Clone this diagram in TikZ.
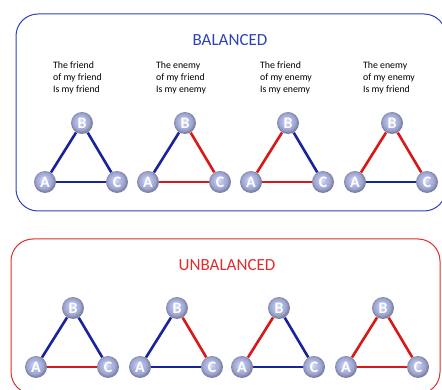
\documentclass[tikz,border=0pt]{standalone}
\usepackage{fontspec}
\setmainfont{Carlito}
\usepackage{xcolor}
\usetikzlibrary{positioning}

\definecolor{boxblue}{RGB}{45,65,185}
\definecolor{boxred}{RGB}{225,45,45}
\definecolor{tieblue}{RGB}{25,35,155}
\definecolor{tiered}{RGB}{215,25,25}
\definecolor{ballcol}{RGB}{175,183,228}
\definecolor{balledge}{RGB}{125,130,165}
\pgfdeclareradialshading{softball}{\pgfpoint{-4bp}{5bp}}{%
    color(0bp)=(ballcol!45!white);
    color(11bp)=(ballcol); color(19bp)=(ballcol!90!black);
    color(24bp)=(balledge); color(50bp)=(balledge)}

\begin{document}
\begin{tikzpicture}[
    x=1pt, y=-1pt,
    % Styles
    person/.style={circle, shading=softball, draw=none, minimum size=22pt, inner sep=0pt, text=white, font=\fontsize{16}{16}\selectfont\bfseries},
    friend/.style={draw=tieblue, line width=2.6pt},
    enemy/.style={draw=tiered, line width=2.6pt},
    panel/.style={rounded corners=22pt, line width=1pt},
    caption/.style={anchor=north west, align=left, inner sep=0pt, font=\fontsize{9.8}{12}\selectfont},
    title/.style={font=\fontsize{17}{17}\selectfont}
]
\useasboundingbox (0,0) rectangle (442,390);

% --- Panels ---
\draw[panel, draw=boxblue] (16,14) rectangle (446,211);
\draw[panel, draw=boxred] (11,239) rectangle (440,394);
\node[title, text=boxblue] (bal) at (230,40) {BALANCED};
\node[title, text=boxred] (unbal) at (227,265) {UNBALANCED};

% --- Captions ---
\node[caption] (cap1) at (53,61) {The friend\\of my friend\\Is my friend};
\node[caption] (cap2) at (156,61) {The enemy\\of my friend\\Is my enemy};
\node[caption] (cap3) at (260,61) {The friend\\of my enemy\\Is my enemy};
\node[caption] (cap4) at (363,61) {The enemy\\of my enemy\\Is my friend};

% --- Triangles: x of B, y of B, style of AB, BC, AC ---
\foreach \n/\bx/\by/\ab/\bc/\ac in {
    1/82/123/friend/friend/friend,
    2/185/123/friend/enemy/enemy,
    3/288/123/enemy/friend/enemy,
    4/392/123/enemy/enemy/friend,
    5/73/308/friend/friend/enemy,
    6/177/308/friend/enemy/friend,
    7/279/308/enemy/friend/friend,
    8/383/308/enemy/enemy/enemy}{
    \node[person] (b\n) at (\bx,\by) {B};
    \node[person] (a\n) at (\bx-37,\by+59) {A};
    \node[person] (c\n) at (\bx+35,\by+59) {C};
    \draw[\ab] (a\n) -- (b\n);
    \draw[\bc] (b\n) -- (c\n);
    \draw[\ac] (a\n) -- (c\n);
}

\end{tikzpicture}
\end{document}
